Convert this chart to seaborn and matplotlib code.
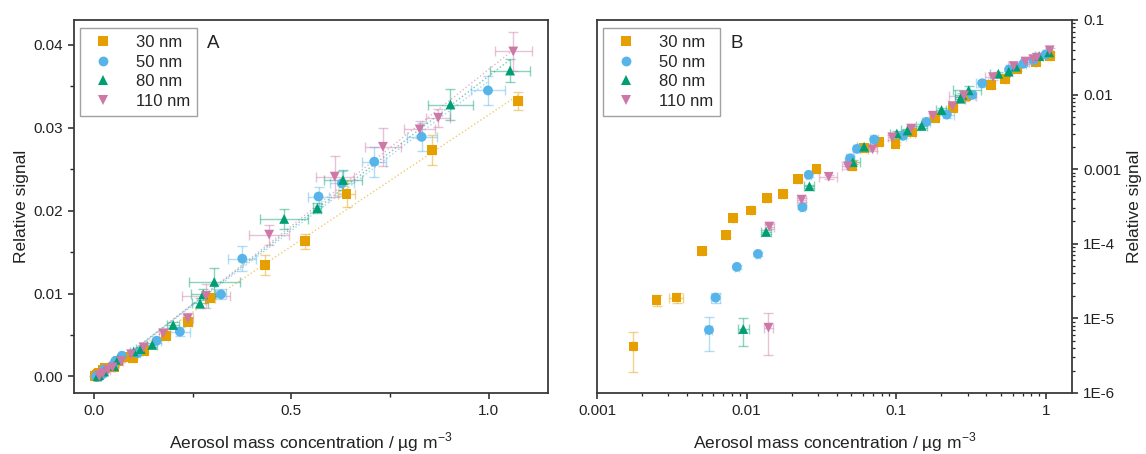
import numpy as np
import pandas as pd
import matplotlib
matplotlib.use("Agg")
import matplotlib.pyplot as plt
import matplotlib.ticker as mticker
import seaborn as sns

# ---------------- data ----------------
labels = ["30 nm", "50 nm", "80 nm", "110 nm"]
colors = ["#E69F00", "#56B4E9", "#009E73", "#CC79A7"]
markers = ["s", "o", "^", "v"]

x30 = [0.00175, 0.0025, 0.0034, 0.0050, 0.0073, 0.0081, 0.0107, 0.0136, 0.0175, 0.0221, 0.0293,
       0.051, 0.061, 0.0764, 0.099, 0.128, 0.182, 0.239, 0.295, 0.433, 0.534, 0.640, 0.857, 1.074]
y30 = [4.2e-6, 1.75e-5, 1.9e-5, 8.1e-5, 1.32e-4, 2.2e-4, 2.8e-4, 4.1e-4, 4.7e-4, 7.3e-4, 1.0e-3,
       1.09e-3, 1.9e-3, 2.3e-3, 2.2e-3, 3.1e-3, 4.9e-3, 6.6e-3, 9.5e-3, 1.34e-2, 1.63e-2, 2.2e-2, 2.73e-2, 3.32e-2]
xe30 = [0.00005, 0.0001, 0.00035, 0.0001, 0.0001, 0.0001, 0.0002, 0.0003, 0.0004, 0.0005, 0.0006,
        0.002, 0.002, 0.003, 0.004, 0.005, 0.007, 0.009, 0.011, 0.006, 0.006, 0.022, 0.006, 0.010]
ye30 = [2.3e-6, 3.0e-6, 3.0e-6, 5e-6, 8e-6, 1e-5, 1.5e-5, 2e-5, 2.5e-5, 4e-5, 5e-5,
        7e-5, 1e-4, 1.2e-4, 1.2e-4, 1.6e-4, 2.5e-4, 4e-4, 5e-4, 1.2e-3, 9e-4, 1.6e-3, 1.8e-3, 1.1e-3]

x50 = [0.0056, 0.0062, 0.0086, 0.0119, 0.0236, 0.026, 0.0493, 0.0547, 0.0713, 0.111, 0.159, 0.218,
       0.322, 0.376, 0.569, 0.628, 0.710, 0.830, 0.998]
y50 = [7.0e-6, 1.9e-5, 4.9e-5, 7.3e-5, 3.1e-4, 8.4e-4, 1.4e-3, 1.87e-3, 2.5e-3, 2.8e-3, 4.3e-3, 5.4e-3,
       9.9e-3, 1.42e-2, 2.17e-2, 2.33e-2, 2.59e-2, 2.89e-2, 3.45e-2]
xe50 = [0.0003, 0.0004, 0.0003, 0.0004, 0.0008, 0.001, 0.003, 0.003, 0.004, 0.006, 0.010, 0.025,
        0.012, 0.035, 0.027, 0.030, 0.030, 0.038, 0.042]
ye50 = [3.3e-6, 3e-6, 3e-6, 4e-6, 2e-5, 5e-5, 8e-5, 1e-4, 1.4e-4, 1.6e-4, 2.5e-4, 5e-4,
        6e-4, 1.5e-3, 1.2e-3, 1.5e-3, 1.8e-3, 1.7e-3, 1.8e-3]

x80 = [0.0095, 0.0135, 0.0263, 0.0513, 0.061, 0.101, 0.119, 0.148, 0.201, 0.269, 0.277, 0.305,
       0.482, 0.566, 0.631, 0.903, 1.054]
y80 = [7.2e-6, 1.44e-4, 5.9e-4, 1.24e-3, 2.0e-3, 3.0e-3, 3.3e-3, 3.8e-3, 6.2e-3, 8.8e-3, 9.9e-3, 1.14e-2,
       1.90e-2, 2.03e-2, 2.37e-2, 3.28e-2, 3.69e-2]
xe80 = [0.0008, 0.001, 0.002, 0.006, 0.006, 0.010, 0.012, 0.012, 0.015, 0.02, 0.03, 0.065,
        0.060, 0.010, 0.048, 0.058, 0.050]
ye80 = [3e-6, 1e-5, 3e-5, 8e-5, 1.2e-4, 2e-4, 2e-4, 2.5e-4, 4e-4, 6e-4, 7e-4, 1.7e-3,
        1.2e-3, 6e-4, 1.2e-3, 1.9e-3, 1.4e-3]

x110 = [0.0140, 0.0142, 0.0233, 0.0354, 0.0475, 0.0695, 0.0943, 0.126, 0.176, 0.238, 0.284, 0.444,
        0.610, 0.732, 0.825, 0.872, 1.062]
y110 = [7.5e-6, 1.7e-4, 3.9e-4, 7.9e-4, 1.09e-3, 1.85e-3, 2.67e-3, 3.5e-3, 5.2e-3, 7.0e-3, 9.7e-3, 1.71e-2,
        2.41e-2, 2.77e-2, 2.98e-2, 3.12e-2, 3.92e-2]
xe110 = [0.0009, 0.001, 0.0015, 0.005, 0.004, 0.005, 0.006, 0.008, 0.010, 0.012, 0.060, 0.050,
         0.048, 0.045, 0.039, 0.030, 0.047]
ye110 = [4.3e-6, 1.2e-5, 2.5e-5, 5e-5, 8e-5, 1.2e-4, 1.8e-4, 2.5e-4, 4e-4, 6e-4, 1.5e-3, 1.2e-3,
         2.5e-3, 2.3e-3, 1.0e-3, 1.1e-3, 2.3e-3]

xs = [x30, x50, x80, x110]
ys = [y30, y50, y80, y110]
xes = [xe30, xe50, xe80, xe110]
yes = [ye30, ye50, ye80, ye110]

frames = []
for lab, x, y, xe, ye in zip(labels, xs, ys, xes, yes):
    frames.append(pd.DataFrame({"x": x, "y": y, "xerr": xe, "yerr": ye, "size": lab}))
df = pd.concat(frames, ignore_index=True)

# ---------------- style ----------------
sns.set_style("ticks")
plt.rcParams["font.family"] = ["Liberation Sans", "DejaVu Sans"]
plt.rcParams["mathtext.fontset"] = "custom"
plt.rcParams["mathtext.rm"] = "Liberation Sans"
plt.rcParams["axes.edgecolor"] = "#3a3a3a"
plt.rcParams["axes.linewidth"] = 1.3

fig = plt.figure(figsize=(11.46, 4.54), dpi=100)
axA = fig.add_axes([0.0646, 0.1344, 0.4136, 0.8216])
axB = fig.add_axes([0.521, 0.1344, 0.4145, 0.8216])

palette = dict(zip(labels, colors))
mk = dict(zip(labels, markers))

XLABEL = "Aerosol mass concentration / µg m$^{\\mathregular{-3}}$"


def draw(ax, fit):
    for lab, c in zip(labels, colors):
        d = df[df["size"] == lab]
        ax.errorbar(d["x"], d["y"], xerr=d["xerr"], yerr=d["yerr"], fmt="none",
                    ecolor=c, alpha=0.45, elinewidth=1.0, capsize=3.5, capthick=1.0, zorder=1)
        if fit:
            sns.regplot(data=d, x="x", y="y", ax=ax, scatter=False, ci=None, truncate=True,
                        color=c, line_kws=dict(ls=":", lw=1.0, alpha=0.55, zorder=0.5))
    sns.scatterplot(data=df, x="x", y="y", hue="size", style="size", hue_order=labels,
                    style_order=labels, palette=palette, markers=mk, s=50, linewidth=0,
                    ax=ax, zorder=3, legend=True)
    sns.move_legend(ax, "upper left", bbox_to_anchor=(0.012, 0.978), title=None,
                    frameon=True, fancybox=False, fontsize=12, labelspacing=0.28,
                    handletextpad=1.0, borderpad=0.4, borderaxespad=0, markerscale=1.0)
    leg = ax.get_legend()
    leg.get_frame().set_edgecolor("#8a8a8a")
    leg.get_frame().set_linewidth(1.0)
    for sp in ax.spines.values():
        sp.set_visible(True)
    ax.set_xlabel(XLABEL, fontsize=12.5, color="#222222", labelpad=9)


# Panel A
draw(axA, fit=True)
axA.set_xlim(-0.05, 1.15)
axA.set_ylim(-0.002, 0.043)
axA.set_xticks([0.0, 0.5, 1.0])
axA.set_xticklabels(["0.0", "0.5", "1.0"])
axA.xaxis.set_minor_locator(mticker.MultipleLocator(0.25))
axA.set_yticks([0.0, 0.01, 0.02, 0.03, 0.04])
axA.set_yticklabels(["0.00", "0.01", "0.02", "0.03", "0.04"])
axA.yaxis.set_minor_locator(mticker.MultipleLocator(0.005))
axA.tick_params(which="major", direction="out", length=4.5, width=1.1, labelsize=11,
                colors="#222222", top=False, right=False)
axA.tick_params(which="minor", direction="out", length=3, width=1.0, top=False, right=False)
axA.set_ylabel("Relative signal", fontsize=12.5, color="#222222", labelpad=3)
axA.text(0.28, 0.938, "A", transform=axA.transAxes, fontsize=13.5, va="center", ha="left",
         color="#222222")

# Panel B
draw(axB, fit=False)
axB.set_xscale("log")
axB.set_yscale("log")
axB.set_xlim(0.001, 1.5)
axB.set_ylim(1e-6, 0.1)
axB.set_xticks([0.001, 0.01, 0.1, 1])
axB.set_xticklabels(["0.001", "0.01", "0.1", "1"])
axB.set_yticks([1e-6, 1e-5, 1e-4, 1e-3, 1e-2, 1e-1])
axB.set_yticklabels(["1E-6", "1E-5", "1E-4", "0.001", "0.01", "0.1"])
axB.xaxis.set_minor_locator(mticker.LogLocator(base=10, subs=np.arange(2, 10)))
axB.yaxis.set_minor_locator(mticker.LogLocator(base=10, subs=np.arange(2, 10)))
axB.xaxis.set_minor_formatter(mticker.NullFormatter())
axB.yaxis.set_minor_formatter(mticker.NullFormatter())
axB.yaxis.tick_right()
axB.yaxis.set_label_position("right")
axB.tick_params(which="major", direction="out", length=4.5, width=1.1, labelsize=11,
                colors="#222222", top=False, left=False)
axB.tick_params(which="minor", direction="out", length=2.5, width=0.9, top=False, left=False)
axB.set_ylabel("Relative signal", fontsize=12.5, color="#222222", labelpad=4)
axB.text(0.28, 0.938, "B", transform=axB.transAxes, fontsize=13.5, va="center", ha="left",
         color="#222222")

fig.savefig("out.png", dpi=100)
